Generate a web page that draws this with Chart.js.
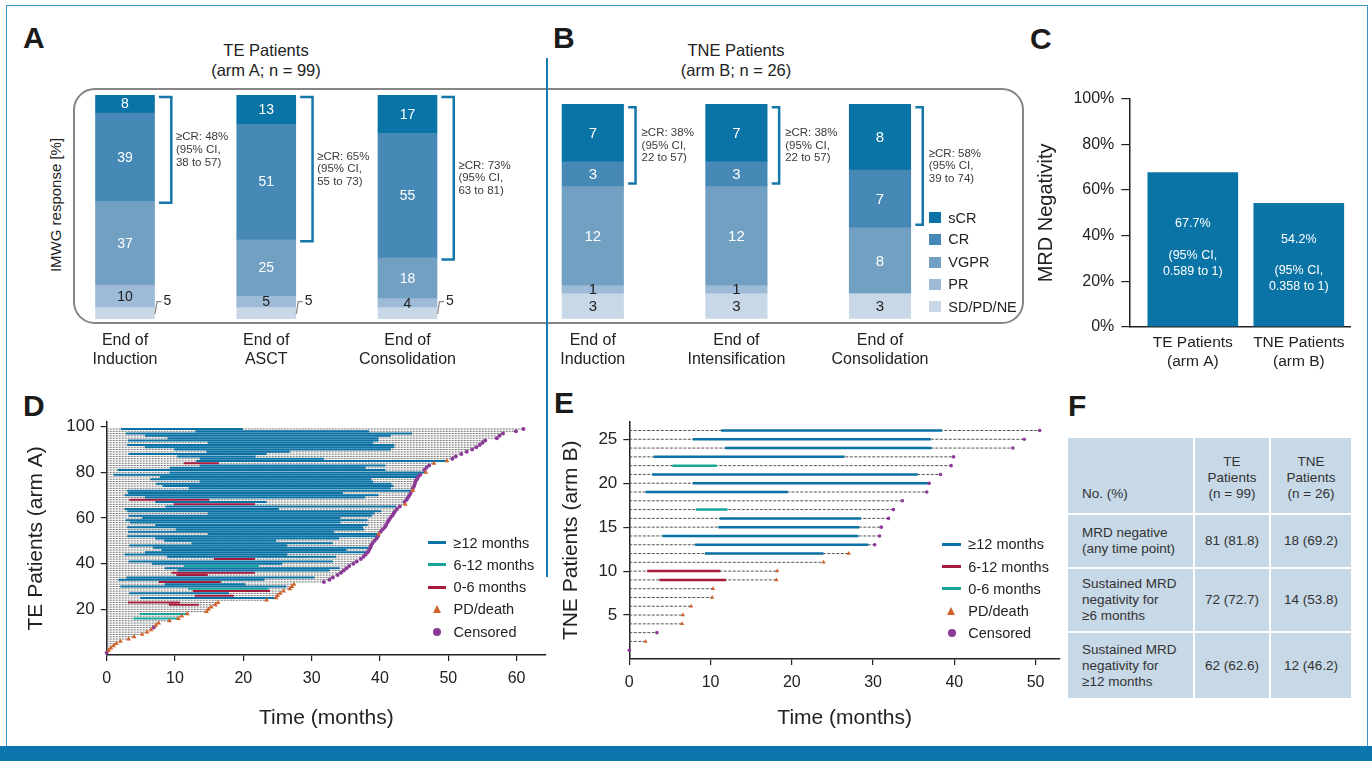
<!DOCTYPE html>
<html>
<head>
<meta charset="utf-8">
<title>MRD response and sustained MRD negativity</title>
<script src="https://cdn.jsdelivr.net/npm/chart.js@4.4.1/dist/chart.umd.min.js"></script>
<style>
  body { margin: 0; background: #fff; font-family: 'Liberation Sans', Arial, sans-serif; color: #222; }
  #page { position: relative; width: 1372px; height: 761px; overflow: hidden; background: #fff; }
  .a { position: absolute; }
  canvas { position: absolute; }
  .frame { left: 6px; top: 5px; width: 1362px; height: 752px; border: 1.5px solid #3a93c9; box-sizing: border-box; }
  .band { left: 0; top: 746px; width: 1372px; height: 15px; background: #0b77ae; }
  .letter { font-weight: bold; font-size: 30px; line-height: 30px; color: #1b1b1b; }
  .head { font-size: 16.5px; line-height: 19.5px; text-align: center; width: 260px; }
  .box { left: 73px; top: 88px; width: 951px; height: 236px; border: 2.5px solid #858585; border-radius: 22px; box-sizing: border-box; }
  .divider { left: 545.5px; top: 58px; width: 2.5px; height: 519px; background: #1a7cb4; }
  .vt { width: 240px; height: 20px; line-height: 20px; text-align: center; transform: rotate(-90deg); white-space: nowrap; }
  .lg { font-size: 14.5px; line-height: 18px; white-space: nowrap; }
  .tbl { left: 1068px; top: 438px; display: grid; grid-template-columns: 125px 74px 80px; grid-template-rows: 75px 52px 62px 65px; gap: 2px; font-size: 13.5px; line-height: 16px; color: #333; }
  .tbl div { background: #c7d8e7; display: flex; align-items: center; }
  .tbl .l { padding-left: 14px; }
  .tbl .c { justify-content: center; text-align: center; }
  .tbl .h { align-items: flex-end; padding-bottom: 11px; }
</style>
</head>
<body>
<div id="page">
  <div class="a frame"></div>
  <div class="a box"></div>

  <div class="a letter" style="left:23px;top:23px">A</div>
  <div class="a letter" style="left:553px;top:23px">B</div>
  <div class="a letter" style="left:1030px;top:24px">C</div>
  <div class="a letter" style="left:23px;top:391px">D</div>
  <div class="a letter" style="left:554px;top:388px">E</div>
  <div class="a letter" style="left:1068px;top:391px">F</div>

  <div class="a head" style="left:136px;top:41px">TE Patients<br>(arm A; n = 99)</div>
  <div class="a head" style="left:606px;top:41px">TNE Patients<br>(arm B; n = 26)</div>
  <div class="a vt" style="left:-64.5px;top:195px;font-size:15px">IMWG response [%]</div>

  <canvas id="chartA" width="525" height="300" style="left:20px;top:80px"></canvas>
  <canvas id="chartB" width="525" height="300" style="left:505px;top:80px"></canvas>
  <canvas id="chartC" width="335" height="310" style="left:1030px;top:80px"></canvas>
  <canvas id="chartD" width="530" height="320" style="left:20px;top:415px"></canvas>
  <canvas id="chartE" width="510" height="320" style="left:555px;top:415px"></canvas>

  <div class="a divider"></div>
  <div id="legendB"></div>
  <div id="legendD"></div>
  <div id="legendE"></div>

  <div class="a tbl">
    <div class="l h">No. (%)</div>
    <div class="c h">TE<br>Patients<br>(n = 99)</div>
    <div class="c h">TNE<br>Patients<br>(n = 26)</div>
    <div class="l">MRD negative<br>(any time point)</div>
    <div class="c">81 (81.8)</div>
    <div class="c">18 (69.2)</div>
    <div class="l">Sustained MRD<br>negativity for<br>≥6 months</div>
    <div class="c">72 (72.7)</div>
    <div class="c">14 (53.8)</div>
    <div class="l">Sustained MRD<br>negativity for<br>≥12 months</div>
    <div class="c">62 (62.6)</div>
    <div class="c">12 (46.2)</div>
  </div>

  <div class="a band"></div>
</div>

<script>
// ---- response categories (bottom of the stack first) ----
const responseNames = ['SD/PD/NE', 'PR', 'VGPR', 'CR', 'sCR'];
const responseColors = ['#c9d8e6', '#9dbad6', '#72a0c3', '#4689b6', '#0b74a7'];

// A: TE patients, counts
const aLabels = [['End of', 'Induction'], ['End of', 'ASCT'], ['End of', 'Consolidation']];
const aSD = [5, 5, 5];
const aPR = [10, 5, 4];
const aVGPR = [37, 25, 18];
const aCR = [39, 51, 55];
const aSCR = [8, 13, 17];
const aCRText = [['≥CR: 48%', '(95% CI,', '38 to 57)'], ['≥CR: 65%', '(95% CI,', '55 to 73)'], ['≥CR: 73%', '(95% CI,', '63 to 81)']];

// B: TNE patients, counts
const bLabels = [['End of', 'Induction'], ['End of', 'Intensification'], ['End of', 'Consolidation']];
const bSD = [3, 3, 3];
const bPR = [1, 1, 0];
const bVGPR = [12, 12, 8];
const bCR = [3, 3, 7];
const bSCR = [7, 7, 8];
const bCRText = [['≥CR: 38%', '(95% CI,', '22 to 57)'], ['≥CR: 38%', '(95% CI,', '22 to 57)'], ['≥CR: 58%', '(95% CI,', '39 to 74)']];

// C: MRD negativity
const cLabels = [['TE Patients', '(arm A)'], ['TNE Patients', '(arm B)']];
const cValues = [67.7, 54.2];
const cCI = ['0.589 to 1', '0.358 to 1'];

// D: TE swimmer plot, follow-up (months) for patients 1..99
const dEnd = [0.0, 0.3, 0.6, 1.0, 1.4, 2.0, 3.2, 4.0, 5.2, 5.9,
  6.5, 6.9, 7.2, 7.6, 9.2, 10.5, 11.0, 11.8, 14.6, 14.9,
  15.3, 15.9, 16.3, 23.4, 24.8, 25.0, 25.4, 25.9, 26.8, 27.1,
  27.4, 31.8, 32.6, 33.1, 33.8, 34.3, 34.7, 35.1, 35.5, 36.1,
  36.6, 37.2, 37.6, 37.9, 38.2, 38.4, 38.6, 38.7, 38.9, 39.2,
  39.5, 39.7, 39.8, 40.1, 40.4, 40.7, 40.9, 41.1, 41.3, 41.5,
  41.8, 42.0, 42.2, 42.5, 42.9, 43.7, 43.6, 43.9, 44.1, 44.3,
  44.5, 44.8, 44.8, 45.0, 45.1, 45.2, 45.4, 45.6, 45.9, 46.7,
  46.5, 46.8, 47.2, 47.9, 49.8, 50.6, 51.1, 51.9, 52.7, 53.5,
  54.1, 54.6, 55.0, 55.4, 57.1, 57.5, 58.0, 59.9, 61.0];
const dDeath = [2, 3, 4, 5, 6, 7, 8, 9, 10, 11, 13, 14, 15, 16, 17, 18, 19, 20, 21, 22,
  23, 24, 25, 26, 27, 28, 29, 30, 31, 53, 66, 72, 80, 84, 85];
// [patient, start, end] of MRD negativity
const dBlue = [[99, 2.1, 19.9], [98, 13.0, 38.4], [97, 2.8, 44.7], [96, 5.6, 41.6], [95, 8.9, 39.8],
  [94, 3.1, 39.8], [93, 14.8, 39.0], [92, 3.0, 42.1], [91, 5.6, 42.1], [90, 9.9, 41.6],
  [89, 14.6, 26.8], [88, 3.2, 23.4], [87, 10.3, 21.8], [86, 13.6, 31.8], [85, 13.1, 49.8],
  [83, 13.6, 40.8], [82, 9.2, 37.9], [81, 1.6, 40.8], [80, 9.2, 46.6], [79, 1.0, 45.8],
  [78, 7.8, 45.4], [77, 6.4, 38.7], [76, 13.6, 39.0], [75, 7.2, 41.7], [74, 8.2, 42.0],
  [73, 12.0, 41.6], [72, 3.0, 44.6], [71, 3.1, 34.6], [70, 2.6, 39.8], [69, 5.6, 37.8],
  [67, 7.1, 23.4], [65, 8.6, 42.4], [64, 2.6, 25.2], [63, 3.0, 40.2], [62, 14.8, 39.2],
  [61, 3.2, 38.8], [60, 5.2, 34.2], [59, 2.8, 38.2], [58, 3.4, 34.2], [57, 7.1, 38.2],
  [56, 3.0, 37.5], [55, 10.1, 37.7], [54, 3.1, 33.3], [53, 14.8, 39.8], [52, 3.0, 39.5],
  [51, 7.1, 34.0], [50, 8.4, 24.8], [49, 12.4, 33.1], [48, 3.3, 26.4], [47, 6.8, 38.4],
  [46, 8.0, 35.1], [45, 5.6, 38.0], [44, 2.6, 26.4], [43, 8.8, 33.6], [41, 3.2, 33.1],
  [40, 6.6, 25.7], [38, 8.5, 34.1], [37, 10.4, 32.6], [34, 2.9, 30.4], [33, 1.7, 23.1],
  [31, 8.5, 20.3], [30, 2.0, 26.3], [27, 3.3, 17.9], [25, 4.9, 24.6]];
const dTeal = [[39, 11.3, 22.3], [29, 11.9, 23.7], [18, 4.8, 11.6], [16, 3.9, 10.4]];
const dRed = [[84, 11.3, 16.4], [68, 3.3, 15.0], [66, 9.8, 21.7], [42, 15.7, 21.7], [36, 9.5, 21.7],
  [35, 10.2, 14.8], [32, 7.6, 16.7], [28, 12.6, 23.9], [26, 12.9, 18.6], [23, 3.1, 10.7], [22, 9.1, 13.5]];

// E: TNE swimmer plot, follow-up (months) for patients 1..26
const eEnd = [0.0, 2.0, 3.4, 6.5, 6.6, 7.6, 10.2, 10.3, 18.1, 18.2,
  23.9, 27.0, 30.2, 30.8, 31.0, 31.9, 32.5, 33.6, 36.6, 36.9,
  38.3, 39.6, 39.9, 47.2, 48.6, 50.5];
const eDeath = [2, 4, 5, 6, 7, 8, 9, 10, 11, 12];
const eBlue = [[26, 11.3, 38.5], [25, 7.8, 37.1], [24, 11.8, 37.2], [23, 3.0, 26.5], [21, 2.8, 35.5],
  [20, 7.8, 36.9], [19, 2.0, 19.5], [16, 11.1, 28.5], [15, 10.95, 28.3], [14, 4.1, 28.2],
  [13, 8.1, 29.4], [12, 9.3, 23.9]];
const eRed = [[10, 2.2, 11.2], [9, 3.7, 11.9]];
const eTeal = [[22, 5.3, 10.75], [17, 8.2, 12.1]];

const blue = '#0a72a4', teal = '#17a69a', red = '#a61b3b', orange = '#d0632b', purple = '#8b3a96';
const fontFam = "'Liberation Sans', Arial, sans-serif";

Chart.defaults.font.family = fontFam;
Chart.defaults.color = '#222';
Chart.defaults.animation = false;
Chart.defaults.plugins.legend.display = false;
Chart.defaults.plugins.tooltip.enabled = false;

// numbers inside the stacked bars, plus the >=CR brackets
const stackLabels = {
  id: 'stackLabels',
  afterDatasetsDraw(chart, args, opts) {
    const ctx = chart.ctx;
    const sets = chart.data.datasets;
    ctx.save();
    ctx.textBaseline = 'middle';
    sets.forEach((ds, di) => {
      chart.getDatasetMeta(di).data.forEach((bar, i) => {
        const v = ds.data[i];
        if (!v) return;
        const right = bar.x + bar.width / 2;
        ctx.font = opts.font;
        if (di === 0 && opts.sdOutside) {
          ctx.strokeStyle = '#8a8a8a';
          ctx.lineWidth = 1.3;
          ctx.beginPath();
          ctx.moveTo(right + 0.5, bar.base - 5);
          ctx.lineTo(right + 2.5, bar.y - 6);
          ctx.lineTo(right + 7, bar.y - 6);
          ctx.stroke();
          ctx.fillStyle = '#222';
          ctx.textAlign = 'left';
          ctx.fillText(v, right + 9, bar.y - 6.5);
          return;
        }
        ctx.fillStyle = di >= 2 ? '#fff' : '#222';
        ctx.textAlign = 'center';
        ctx.fillText(v, bar.x, (bar.y + bar.base) / 2 + 0.5);
      });
    });
    const topMeta = chart.getDatasetMeta(sets.length - 1);
    const crMeta = chart.getDatasetMeta(sets.length - 2);
    topMeta.data.forEach((bar, i) => {
      const right = bar.x + bar.width / 2;
      const y1 = bar.y + opts.brTop;
      const y2 = crMeta.data[i].base + opts.brBot;
      ctx.strokeStyle = '#1476a9';
      ctx.lineWidth = 2.5;
      ctx.lineJoin = 'miter';
      ctx.beginPath();
      ctx.moveTo(right + opts.brL, y1);
      ctx.lineTo(right + opts.brR, y1);
      ctx.lineTo(right + opts.brR, y2);
      ctx.lineTo(right + opts.brL, y2);
      ctx.stroke();
      const mid = (y1 + y2) / 2;
      ctx.font = '11.5px ' + fontFam;
      ctx.fillStyle = '#3a3a3a';
      ctx.textAlign = 'left';
      opts.lines[i].forEach((t, j) => ctx.fillText(t, right + opts.txX, mid + (j - 1) * 12.7));
    });
    ctx.restore();
  }
};

function stackChart(id, labels, series, maxVal, o) {
  return new Chart(document.getElementById(id), {
    type: 'bar',
    data: {
      labels: labels,
      datasets: series.map((s, k) => ({
        label: responseNames[k],
        data: s,
        backgroundColor: responseColors[k],
        borderWidth: 0,
        barThickness: o.bw
      }))
    },
    options: {
      responsive: false,
      layout: { padding: { left: o.left, right: o.right, top: o.top, bottom: 0 } },
      scales: {
        x: {
          stacked: true,
          grid: { display: false, drawTicks: false },
          border: { display: false },
          ticks: { font: { size: 16 }, color: '#222', padding: 12, maxRotation: 0, autoSkip: false },
          afterFit: s => { s.height = o.xh; }
        },
        y: { stacked: true, display: false, min: 0, max: maxVal }
      },
      plugins: { stackLabels: o.labels }
    },
    plugins: [stackLabels]
  });
}

stackChart('chartA', aLabels, [aSD, aPR, aVGPR, aCR, aSCR], 99,
  { bw: 59, left: 34.4, right: 66.9, top: 15, xh: 61,
    labels: { sdOutside: true, font: '14px ' + fontFam, brL: 4.4, brR: 16.8, txX: 21.4, brTop: 2, brBot: 1.5, lines: aCRText } });

stackChart('chartB', bLabels, [bSD, bPR, bVGPR, bCR, bSCR], 26,
  { bw: 61.5, left: 16, right: 78.2, top: 24, xh: 61.3,
    labels: { sdOutside: false, font: '15px ' + fontFam, brL: 4.6, brR: 12, txX: 18, brTop: 3.3, brBot: -3, lines: bCRText } });

// C: labels inside the bars
const barText = {
  id: 'barText',
  afterDatasetsDraw(chart) {
    const ctx = chart.ctx;
    ctx.save();
    ctx.fillStyle = '#fff';
    ctx.font = '12.5px ' + fontFam;
    ctx.textAlign = 'center';
    ctx.textBaseline = 'middle';
    chart.getDatasetMeta(0).data.forEach((bar, i) => {
      const mid = (bar.y + bar.base) / 2;
      ctx.fillText(cValues[i].toFixed(1) + '%', bar.x, mid - 25.5);
      ctx.fillText('(95% CI,', bar.x, mid + 6);
      ctx.fillText(cCI[i] + ')', bar.x, mid + 22);
    });
    ctx.restore();
  }
};

// keep the chart area where it was asked to be (no extra room for end labels)
const noEdgePad = s => { s.paddingTop = 0; s.paddingBottom = 0; };

new Chart(document.getElementById('chartC'), {
  type: 'bar',
  data: {
    datasets: [{
      data: cValues.map((v, i) => ({ x: i + 1, y: v })),
      backgroundColor: '#0b74a7',
      borderWidth: 0,
      barThickness: 90
    }]
  },
  options: {
    responsive: false,
    layout: { padding: { left: 0, right: 15, top: 19, bottom: 0 } },
    scales: {
      x: {
        type: 'linear', min: 0.401, max: 2.483, offset: false,
        afterBuildTicks: s => { s.ticks = [{ value: 1 }, { value: 2 }]; },
        ticks: { callback: v => cLabels[v - 1], font: { size: 15.5 }, color: '#222', padding: 7, maxRotation: 0 },
        grid: { display: false, drawTicks: false, offset: false },
        border: { color: '#222', width: 1.5 },
        afterFit: s => { s.height = 63.3; s.paddingLeft = 0; s.paddingRight = 0; }
      },
      y: {
        min: 0, max: 100,
        afterBuildTicks: s => { s.ticks = [0, 20, 40, 60, 80, 100].map(v => ({ value: v })); },
        ticks: { callback: v => v + '%', font: { size: 16 }, color: '#222', padding: 7 },
        grid: { drawOnChartArea: false, tickLength: 8, color: '#222', lineWidth: 1.2 },
        border: { color: '#222', width: 1.5 },
        title: { display: true, text: 'MRD Negativity', font: { size: 20 }, color: '#222' },
        afterFit: s => { s.width = 99.3; noEdgePad(s); }
      }
    }
  },
  plugins: [barText]
});

// swimmer plots
function segData(segs) {
  const out = [];
  segs.forEach(s => out.push({ x: s[1], y: s[0] }, { x: s[2], y: s[0] }, { x: s[2], y: null }));
  return out;
}

function swimChart(id, c) {
  const follow = [];
  c.ends.forEach((e, k) => follow.push({ x: 0, y: k + 1 }, { x: e, y: k + 1 }, { x: e, y: null }));
  const deaths = c.death.map(p => ({ x: c.ends[p - 1], y: p }));
  const cens = c.ends.map((e, k) => ({ x: e, y: k + 1 })).filter(pt => !c.death.includes(pt.y));
  const lineDs = (data, color, width, dash, order) => ({
    data: data, borderColor: color, borderWidth: width, borderDash: dash, pointRadius: 0,
    spanGaps: false, borderCapStyle: 'butt', tension: 0, order: order
  });
  return new Chart(document.getElementById(id), {
    type: 'line',
    data: {
      datasets: [
        { data: deaths, showLine: false, pointStyle: 'triangle', pointRadius: c.tri, backgroundColor: orange, borderWidth: 0, order: 0, clip: false },
        { data: cens, showLine: false, pointStyle: 'circle', pointRadius: c.dot, backgroundColor: purple, borderWidth: 0, order: 0, clip: false },
        lineDs(segData(c.blue), blue, c.bar, [], 1),
        lineDs(segData(c.teal), teal, c.bar, [], 1),
        lineDs(segData(c.red), red, c.bar, [], 1),
        lineDs(follow, c.dashColor, 1, c.dash, 2)
      ]
    },
    options: {
      responsive: false,
      layout: { padding: { left: 0, right: c.padR, top: c.padT, bottom: 0 } },
      scales: {
        x: {
          type: 'linear', min: 0, max: c.xMax,
          afterBuildTicks: s => { s.ticks = c.xTicks.map(v => ({ value: v })); },
          ticks: { font: { size: 16 }, color: '#222', padding: 8 },
          grid: { drawOnChartArea: false, tickLength: 6, color: '#222', lineWidth: 1.2 },
          border: { color: '#222', width: 1.5 },
          title: { display: true, text: 'Time (months)', font: { size: 21 }, color: '#222' },
          afterFit: s => { s.height = c.xh; s.paddingLeft = 0; s.paddingRight = 0; }
        },
        y: {
          type: 'linear', min: 0, max: c.yMax,
          afterBuildTicks: s => { s.ticks = c.yTicks.map(v => ({ value: v })); },
          ticks: { font: { size: 17 }, color: '#222', padding: 6 },
          grid: { drawOnChartArea: false, tickLength: 6, color: '#222', lineWidth: 1.2 },
          border: { color: '#222', width: 1.5 },
          title: { display: true, text: c.yTitle, font: { size: 21 }, color: '#222' },
          afterFit: s => { s.width = c.yw; noEdgePad(s); }
        }
      }
    }
  });
}

swimChart('chartD', {
  ends: dEnd, death: dDeath, blue: dBlue, teal: dTeal, red: dRed,
  bar: 2, tri: 2.8, dot: 2, dash: [2, 1], dashColor: '#6e6e6e',
  xMax: 64.3, yMax: 102.2, xTicks: [0, 10, 20, 30, 40, 50, 60], yTicks: [20, 40, 60, 80, 100],
  yTitle: 'TE Patients (arm A)', yw: 86.7, xh: 80, padR: 3, padT: 6.7
});

swimChart('chartE', {
  ends: eEnd, death: eDeath, blue: eBlue, teal: eTeal, red: eRed,
  bar: 2.5, tri: 2.5, dot: 1.8, dash: [3, 1.5], dashColor: '#555',
  xMax: 53, yMax: 27, xTicks: [0, 10, 20, 30, 40, 50], yTicks: [5, 10, 15, 20, 25],
  yTitle: 'TNE Patients (arm B)', yw: 74.3, xh: 76, padR: 5, padT: 6.7
});

// HTML legends
function addItem(host, x, y, marker, text, textX) {
  const m = document.createElement('div');
  m.className = 'a';
  if (marker.type === 'square') {
    Object.assign(m.style, { left: x + 'px', top: (y - 5.7) + 'px', width: '11.3px', height: '11.3px', background: marker.color });
  } else if (marker.type === 'line') {
    Object.assign(m.style, { left: x + 'px', top: (y - 1.5) + 'px', width: '18.3px', height: '3px', background: marker.color });
  } else if (marker.type === 'triangle') {
    Object.assign(m.style, { left: (x + 5) + 'px', top: (y - 4.5) + 'px', width: 0, height: 0,
      borderLeft: '4.5px solid transparent', borderRight: '4.5px solid transparent', borderBottom: '8px solid ' + marker.color });
  } else {
    Object.assign(m.style, { left: (x + 5.5) + 'px', top: (y - 4) + 'px', width: '8px', height: '8px', borderRadius: '50%', background: marker.color });
  }
  host.appendChild(m);
  const t = document.createElement('div');
  t.className = 'a lg';
  t.style.left = textX + 'px';
  t.style.top = (y - 9) + 'px';
  t.textContent = text;
  host.appendChild(t);
}

const legB = document.getElementById('legendB');
const bRows = [217.7, 239.3, 262.3, 284.3, 306.7];
responseNames.slice().reverse().forEach((n, i) => {
  addItem(legB, 929.3, bRows[i], { type: 'square', color: responseColors[4 - i] }, n, 948.3);
});

const swimNames = ['≥12 months', '6-12 months', '0-6 months', 'PD/death', 'Censored'];
const legD = document.getElementById('legendD');
const dRows = [542.7, 564.7, 587.3, 609.3, 631.7];
const dMarks = [{ type: 'line', color: blue }, { type: 'line', color: teal }, { type: 'line', color: red },
  { type: 'triangle', color: orange }, { type: 'circle', color: purple }];
swimNames.forEach((n, i) => addItem(legD, 427.5, dRows[i], dMarks[i], n, 453.6));

const legE = document.getElementById('legendE');
const eRows = [544.3, 566.7, 588.7, 611.3, 633.3];
const eMarks = [{ type: 'line', color: blue }, { type: 'line', color: red }, { type: 'line', color: teal },
  { type: 'triangle', color: orange }, { type: 'circle', color: purple }];
swimNames.forEach((n, i) => addItem(legE, 942.3, eRows[i], eMarks[i], n, 968.3));
</script>
</body>
</html>
